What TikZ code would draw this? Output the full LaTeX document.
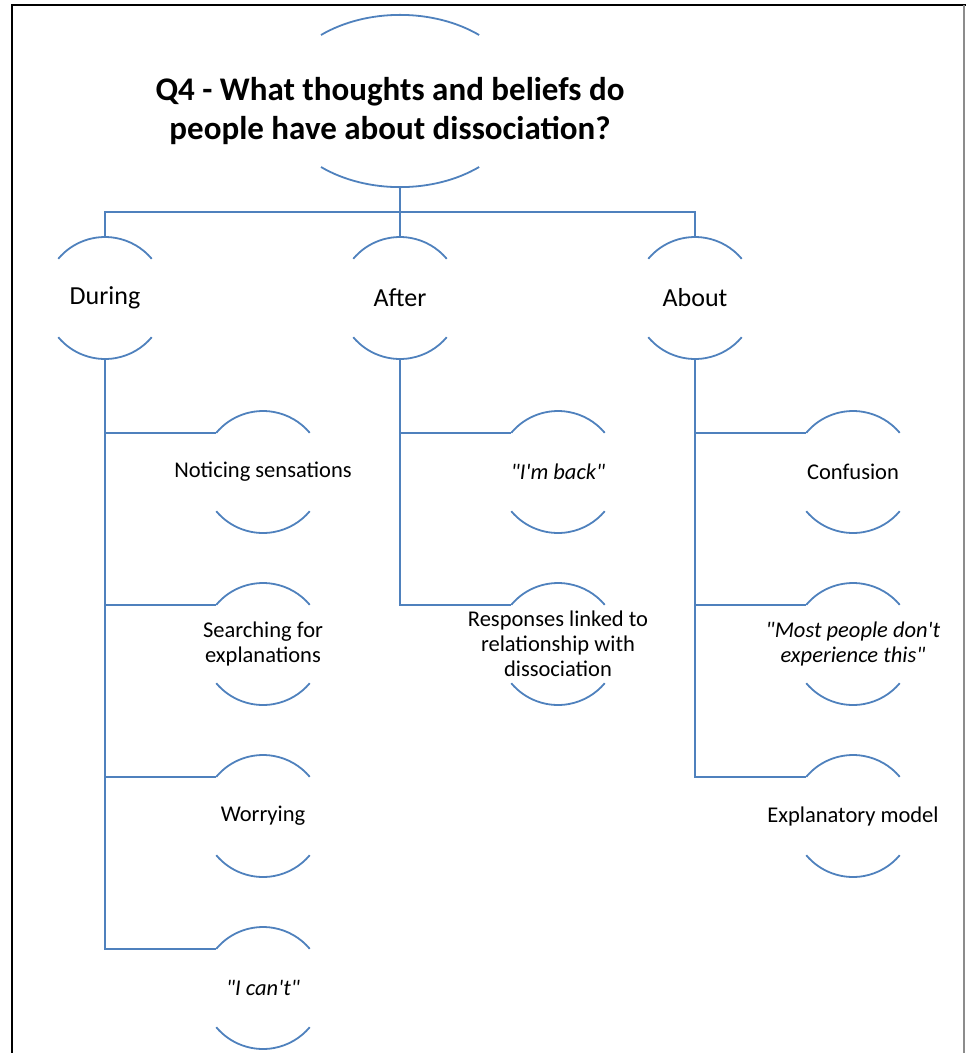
\documentclass[tikz,border=0pt]{standalone}
\usepackage{fontspec}
\setmainfont{Carlito}
\usetikzlibrary{shapes.geometric}
\definecolor{lineblue}{HTML}{4F81BD}
\definecolor{framegray}{HTML}{8C8C8C}

\newcommand{\dq}{\textquotedbl}
\newcommand{\sq}{\textquotesingle}

\tikzset{
  link/.style={draw=lineblue, line width=1.8pt},
  bubtext/.style={inner sep=0pt, align=center},
  topic/.style={bubtext, font=\fontsize{26}{30}\selectfont},
  bub/.style={bubtext, font=\fontsize{22.5}{25}\selectfont},
  quote/.style={bubtext, font=\fontsize{22.5}{25}\selectfont\itshape},
  headline/.style={bubtext, font=\fontsize{33}{39}\selectfont\bfseries},
}

\begin{document}
\begin{tikzpicture}[x=1pt, y=1pt]
\useasboundingbox (0,0) rectangle (966,-1053);

% page frame
\draw[black, line width=2.6pt] (12,-1053) -- (12,-5) -- (966,-5);
\draw[framegray, line width=1.2pt] (964,-5) -- (964,-1053);

% root question, framed by the arcs of a wide ellipse
\coordinate (rootc) at (400,-101);
\node[headline] (root) at (390,-111) {Q4 - What thoughts and beliefs do\\people have about dissociation?};
\draw[link] ([shift={(-79pt,66pt)}]rootc) arc[start angle=130, end angle=50, x radius=123pt, y radius=86pt];
\draw[link] ([shift={(-79pt,-66pt)}]rootc) arc[start angle=230, end angle=310, x radius=123pt, y radius=86pt];
\coordinate (root-bot) at ([yshift=-86pt]rootc);

% first level
\node[topic] (during) at (105,-298) {During};
\node[topic] (after)  at (400,-298) {After};
\node[topic] (about)  at (695,-298) {About};

% second level
\node[bub]   (notice)  at (263,-472) {Noticing sensations};
\node[bub]   (search)  at (263,-644) {Searching for\\explanations};
\node[bub]   (worry)   at (263,-816) {Worrying};
\node[quote] (cant)    at (263,-988) {\dq I can\sq t\dq};
\node[quote] (back)    at (558,-472) {\dq I\sq m back\dq};
\node[bub]   (respond) at (558,-644) {Responses linked to\\relationship with\\dissociation};
\node[bub]   (confuse) at (853,-472) {Confusion};
\node[quote] (most)    at (853,-644) {\dq Most people don\sq t\\experience this\dq};
\node[bub]   (model)   at (853,-816) {Explanatory model};

% open bubbles: only the upper and lower arcs of a circle are drawn
\foreach \n in {during,after,about,notice,search,worry,cant,back,respond,confuse,most,model} {
  \coordinate (\n-top) at ([yshift=61pt]\n.center);
  \coordinate (\n-bot) at ([yshift=-61pt]\n.center);
  \coordinate (\n-in)  at ([shift={(140:61pt)}]\n.center);
  \draw[link] (\n-in) arc[start angle=140, end angle=40, radius=61pt];
  \draw[link] ([shift={(220:61pt)}]\n.center) arc[start angle=220, end angle=320, radius=61pt];
}

% hierarchy connectors
\coordinate (hub) at (400,-212);
\draw[link] (root-bot) -- (after-top);
\draw[link] (during-top) |- (hub) -| (about-top);

\foreach \c in {notice,search,worry,cant} \draw[link] (during-bot) |- (\c-in);
\foreach \c in {back,respond} \draw[link] (after-bot) |- (\c-in);
\foreach \c in {confuse,most,model} \draw[link] (about-bot) |- (\c-in);
\end{tikzpicture}
\end{document}
